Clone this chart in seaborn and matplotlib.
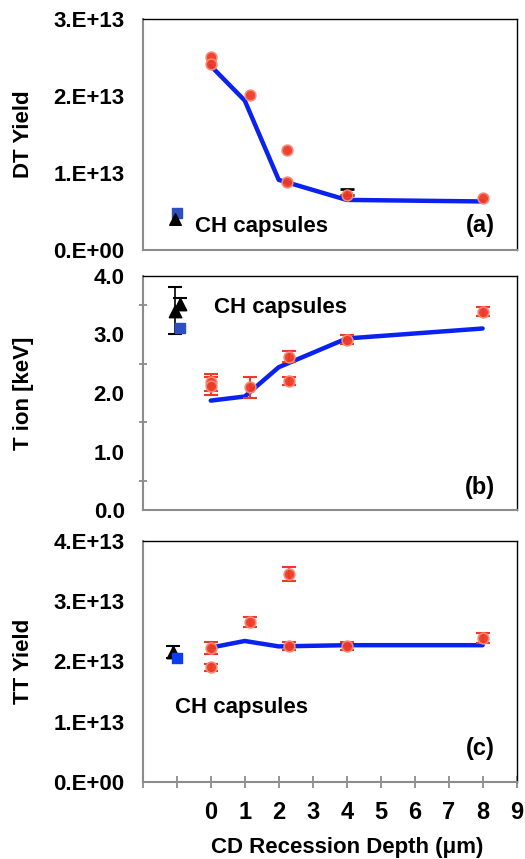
import numpy as np
import pandas as pd
import matplotlib
matplotlib.use("Agg")
import matplotlib.pyplot as plt
import seaborn as sns

# ---------------- data ----------------
# model (blue line)
model_x = [0, 1, 2, 4, 8]
dt_model = [2.39e13, 1.94e13, 0.91e13, 0.65e13, 0.63e13]
ti_model = [1.87, 1.94, 2.44, 2.93, 3.10]
tt_model = [2.23e13, 2.34e13, 2.25e13, 2.27e13, 2.27e13]

# CD capsule measurements (red)
dt_x = [0, 0, 1.15, 2.25, 2.25, 4, 8]
dt_y = [2.51e13, 2.41e13, 2.01e13, 1.30e13, 0.88e13, 0.72e13, 0.68e13]

ti_x = [0, 0, 1.15, 2.3, 2.3, 4, 8]
ti_y = [2.18, 2.12, 2.10, 2.62, 2.20, 2.91, 3.39]
ti_err = [0.15, 0.15, 0.18, 0.09, 0.07, 0.08, 0.07]

tt_x = [0, 0, 1.15, 2.3, 2.3, 4, 8]
tt_y = [2.22e13, 1.90e13, 2.66e13, 3.45e13, 2.26e13, 2.26e13, 2.39e13]
tt_err = [0.10e13, 0.06e13, 0.08e13, 0.12e13, 0.07e13, 0.07e13, 0.08e13]

# CH capsules
ch_dt_tri = (-1.05, 0.40e13)
ch_dt_sq = (-1.0, 0.48e13)
ch_ti_tri_x = [-1.05, -0.9]
ch_ti_tri_y = [3.40, 3.52]
ch_ti_tri_err = [0.40, 0.10]
ch_ti_sq = (-0.9, 3.11)
ch_tt_tri = (-1.1, 2.16e13, 0.10e13)
ch_tt_sq = (-1.0, 2.06e13)

dt_ticks = [0, 1e13, 2e13, 3e13]
dt_ticklabels = ["0.E+00", "1.E+13", "2.E+13", "3.E+13"]
ti_ticks = [0, 1, 2, 3, 4]
ti_ticklabels = ["0.0", "1.0", "2.0", "3.0", "4.0"]
tt_ticks = [0, 1e13, 2e13, 3e13, 4e13]
tt_ticklabels = ["0.E+00", "1.E+13", "2.E+13", "3.E+13", "4.E+13"]
x_ticks = list(range(-2, 10))
x_ticklabels = ["", ""] + [str(i) for i in range(10)]

# ---------------- style ----------------
sns.set_theme(style="white")
plt.rcParams['font.family'] = ['Liberation Sans', 'DejaVu Sans']
plt.rcParams['font.weight'] = 'bold'
plt.rcParams['text.color'] = 'black'
plt.rcParams['axes.labelcolor'] = 'black'
plt.rcParams['xtick.labelcolor'] = 'black'
plt.rcParams['ytick.labelcolor'] = 'black'

RED = "#ee3a24"
BLUE = "#0a22f0"
SQ = "#2d4fc0"
GRAY = "#8c8c8c"
FS = 16

fig = plt.figure(figsize=(5.25, 8.59), dpi=100)
L, R = 0.272, 0.984
axa = fig.add_axes([L, 0.709, R - L, 0.978 - 0.709])
axb = fig.add_axes([L, 0.406, R - L, 0.679 - 0.406])
axc = fig.add_axes([L, 0.090, R - L, 0.370 - 0.090])


def style(ax):
    for s in ["top", "right"]:
        ax.spines[s].set_color("black")
        ax.spines[s].set_linewidth(1.0)
    for s in ["left", "bottom"]:
        ax.spines[s].set_color(GRAY)
        ax.spines[s].set_linewidth(1.5)
    ax.set_xlim(-2, 9)
    ax.tick_params(axis="y", direction="inout", length=8, width=1.3, color=GRAY,
                   labelsize=FS, pad=9, labelcolor="black")
    for t in ax.get_yticklabels():
        t.set_fontweight("bold")
    ax.yaxis.set_label_coords(-0.292, 0.5)


def line(ax, y):
    df = pd.DataFrame({"x": model_x, "y": y})
    sns.lineplot(data=df, x="x", y="y", ax=ax, color=BLUE, lw=3.2, zorder=2)


def red_pts(ax, x, y, err=None):
    if err is not None:
        ax.errorbar(x, y, yerr=err, fmt="none", ecolor=RED, elinewidth=1.5,
                    capsize=5, capthick=1.5, zorder=3)
    df = pd.DataFrame({"x": x, "y": y})
    sns.scatterplot(data=df, x="x", y="y", ax=ax, color=RED, s=60,
                    edgecolor="#f58a78", linewidth=1.2, zorder=4, alpha=0.95)


# ---- (a) DT yield ----
line(axa, dt_model)
axa.errorbar([4], [0.72e13], yerr=[[0], [0.07e13]], fmt="none", ecolor="black",
             elinewidth=1.2, capsize=5, capthick=2, zorder=3)
red_pts(axa, dt_x, dt_y)
axa.scatter([ch_dt_sq[0]], [ch_dt_sq[1]], marker="s", s=45, color=SQ, zorder=4)
axa.scatter([ch_dt_tri[0]], [ch_dt_tri[1]], marker="^", s=70, color="black", zorder=5)
axa.set_ylim(0, 3e13)
axa.set_yticks(dt_ticks)
axa.set_yticklabels(dt_ticklabels, fontweight="bold")
axa.set_xticks([])
axa.text(-0.45, 0.31e13, "CH capsules", fontsize=FS, fontweight="bold",
         va="center", ha="left")
axa.text(8.35, 0.32e13, "(a)", fontsize=FS + 1, fontweight="bold",
         va="center", ha="right")
axa.set_ylabel("DT Yield", fontsize=FS, fontweight="bold")
axa.set_xlabel("")
style(axa)

# ---- (b) T ion ----
line(axb, ti_model)
red_pts(axb, ti_x, ti_y, ti_err)
axb.errorbar(ch_ti_tri_x, ch_ti_tri_y, yerr=ch_ti_tri_err, fmt="none",
             ecolor="black", elinewidth=1.2, capsize=5, capthick=1.5, zorder=3)
axb.scatter([ch_ti_sq[0]], [ch_ti_sq[1]], marker="s", s=45, color=SQ, zorder=4)
axb.scatter(ch_ti_tri_x, ch_ti_tri_y, marker="^", s=80, color="black", zorder=5)
axb.set_ylim(0, 4)
axb.set_yticks(ti_ticks)
axb.set_yticklabels(ti_ticklabels, fontweight="bold")
axb.set_yticks(np.arange(0.5, 4, 1.0), minor=True)
axb.tick_params(axis="y", which="minor", direction="inout", length=6,
                width=1.3, color=GRAY, left=True)
axb.set_xticks([])
axb.text(0.09, 3.45, "CH capsules", fontsize=FS, fontweight="bold",
         va="center", ha="left")
axb.text(8.35, 0.38, "(b)", fontsize=FS + 1, fontweight="bold",
         va="center", ha="right")
axb.set_ylabel("T ion [keV]", fontsize=FS, fontweight="bold")
axb.set_xlabel("")
style(axb)

# ---- (c) TT yield ----
line(axc, tt_model)
red_pts(axc, tt_x, tt_y, tt_err)
axc.errorbar([ch_tt_tri[0]], [ch_tt_tri[1]], yerr=[ch_tt_tri[2]], fmt="none",
             ecolor="black", elinewidth=1.2, capsize=5, capthick=1.5, zorder=3)
axc.scatter([ch_tt_tri[0]], [ch_tt_tri[1]], marker="^", s=80, color="black", zorder=4)
axc.scatter([ch_tt_sq[0]], [ch_tt_sq[1]], marker="s", s=60, color="#0a3cf0", zorder=5)
axc.set_ylim(0, 4e13)
axc.set_yticks(tt_ticks)
axc.set_yticklabels(tt_ticklabels, fontweight="bold")
axc.set_xticks(x_ticks)
axc.set_xticklabels(x_ticklabels, fontweight="bold", fontsize=FS + 1)
axc.tick_params(axis="x", direction="inout", length=8, width=1.3, color=GRAY,
                pad=10, bottom=True, labelcolor="black")
axc.text(-1.06, 1.23e13, "CH capsules", fontsize=FS, fontweight="bold",
         va="center", ha="left")
axc.text(8.35, 0.56e13, "(c)", fontsize=FS + 1, fontweight="bold",
         va="center", ha="right")
axc.set_ylabel("TT Yield", fontsize=FS, fontweight="bold")
axc.set_xlabel("CD Recession Depth (\u03bcm)", fontsize=FS,
               fontweight="bold")
style(axc)
axc.xaxis.set_label_coords(0.548, -0.228)
for t in axc.get_xticklabels():
    t.set_fontweight("bold")

fig.savefig("out.png", dpi=100)
